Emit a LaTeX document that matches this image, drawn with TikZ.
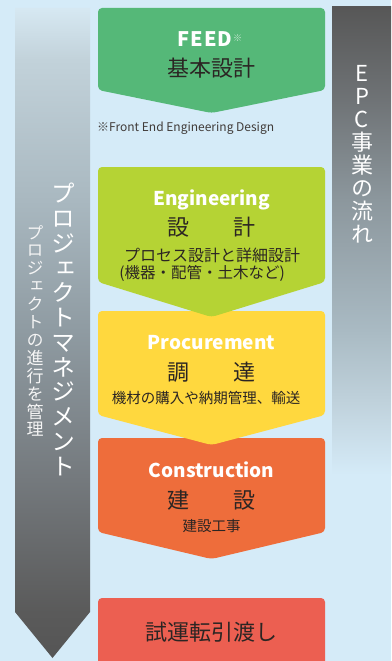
\documentclass[tikz,border=0pt]{standalone}
\usepackage{fontspec}
\setmainfont{Noto Sans CJK JP}
\newfontfamily\jpv[RawFeature=+vert]{Noto Sans CJK JP}
\newcommand\nolsl{\lineskiplimit=-100pt\relax}
\definecolor{bg}{HTML}{D5EBF8}
\definecolor{feedc}{HTML}{55B878}
\definecolor{engc}{HTML}{B5D334}
\definecolor{procc}{HTML}{FFD83E}
\definecolor{consc}{HTML}{EE6D3B}
\definecolor{finc}{HTML}{EC5F51}
\definecolor{ink}{HTML}{2B2523}
\definecolor{la0}{HTML}{D6E8F2}
\definecolor{la1}{HTML}{C2D2DA}
\definecolor{la2}{HTML}{A9B8C0}
\definecolor{la3}{HTML}{8F9BA2}
\definecolor{la4}{HTML}{74797D}
\definecolor{la5}{HTML}{5A5A5A}
\definecolor{la6}{HTML}{555555}
\definecolor{ra0}{HTML}{575757}
\definecolor{ra1}{HTML}{6F7376}
\definecolor{ra2}{HTML}{8C979D}
\definecolor{ra3}{HTML}{A9BAC3}
\definecolor{ra4}{HTML}{BFD1DB}
\pgfdeclareverticalshading{larrow}{100bp}{color(0bp)=(la6); color(25bp)=(la6); color(28.5bp)=(la5); color(38.7bp)=(la4); color(50.2bp)=(la3); color(60.2bp)=(la2); color(71bp)=(la1); color(75bp)=(la0); color(100bp)=(la0)}
\pgfdeclareverticalshading{rbar}{100bp}{color(0bp)=(bg); color(25bp)=(bg); color(33bp)=(ra4); color(40.5bp)=(ra3); color(54.4bp)=(ra2); color(65.1bp)=(ra1); color(75bp)=(ra0); color(100bp)=(ra0)}
\newcommand\chev[4]{\fill[#4, rounded corners=4pt] (98,#2) -- (98,#1) -- (325,#1) -- (325,#2) -- (211.5,#3) -- cycle;}
\begin{document}
\begin{tikzpicture}[x=1pt,y=-1pt,
  head/.style={text=white, inner sep=0, anchor=base, font=\bfseries\fontsize{19}{19}\selectfont},
  kanji/.style={text=ink, inner sep=0, font=\fontsize{22}{22}\selectfont},
  sub/.style={text=ink, inner sep=0, font=\fontsize{15}{15}\selectfont},
  vtext/.style={text=white, inner sep=0, anchor=north, align=center}]
\useasboundingbox (0,0) rectangle (391,661);
\fill[bg] (0,0) rectangle (391,661);
% side bars
\shade[shading=larrow] (15,8) -- (90,8) -- (90,612) -- (52.5,658) -- (15,612) -- cycle;
\shade[shading=rbar] (332,7) rectangle (391,475);
% chevron boxes (bottom first)
\fill[finc, rounded corners=4pt] (98,680) -- (98,598) -- (325,598) -- (325,680) -- cycle;
\chev{438}{532}{559}{consc}
\chev{311}{415}{445}{procc}
\chev{167}{282}{317}{engc}
\chev{8}{90}{113}{feedc}
% FEED
\node[head, font=\bfseries\fontsize{20}{20}\selectfont] (feed) at (205,47) {F\kern0.8pt E\kern0.8pt E\kern0.8pt D\rlap{\kern1pt\raisebox{5pt}{\fontsize{9}{9}\selectfont\color{white!70!feedc}※}}};
\node[kanji] (feedj) at (211.5,68) {基本設計};
\node[text=ink!90, inner sep=0, anchor=west, font=\fontsize{12}{12}\selectfont] (note) at (97,128) {※Front End Engineering Design};
% Engineering
\node[head] (eng) at (211.5,205) {Engineering};
\node[kanji] (engj) at (211.5,227) {設　　計};
\node[sub, font=\fontsize{16}{16}\selectfont] (eng1) at (212,255) {プロセス設計と詳細設計};
\node[sub, font=\fontsize{15.5}{15.5}\selectfont] (eng2) at (202,273) {(機器・配管・土木など)};
% Procurement
\node[head] (proc) at (211.5,349) {Procurement};
\node[kanji] (procj) at (211.5,372) {調　　達};
\node[sub, font=\fontsize{14.5}{14.5}\selectfont] (proc1) at (206,398) {機材の購入や納期管理、輸送};
% Construction
\node[head] (cons) at (211.5,477) {Construction};
\node[kanji] (consj) at (211.5,500) {建　　設};
\node[sub, font=\fontsize{14.5}{14.5}\selectfont] (cons1) at (211.5,526) {建設工事};
% Final
\node[kanji] (fin) at (211.5,632) {試運転引渡し};
% vertical texts
\node[vtext, font=\jpv\fontsize{24}{24.75}\selectfont\nolsl] (pm) at (63,183) {プ\\ロ\\ジ\\ェ\\ク\\ト\\マ\\ネ\\ジ\\メ\\ン\\ト};
\node[vtext, text=white!92!gray, font=\jpv\fontsize{17}{17.9}\selectfont\nolsl] (pm2) at (35,225) {プ\\ロ\\ジ\\ェ\\ク\\ト\\の\\進\\行\\を\\管\\理};
\node[vtext, font=\jpv\fontsize{22}{23}\selectfont\nolsl] (epc) at (362,65) {E\\P\\C\\事\\業\\の\\流\\れ};
\end{tikzpicture}
\end{document}
